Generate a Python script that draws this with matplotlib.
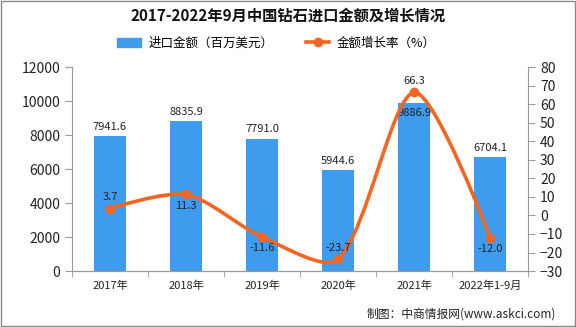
import numpy as np
import matplotlib
matplotlib.use("Agg")
import matplotlib.pyplot as plt
from matplotlib.path import Path
from matplotlib.patches import PathPatch, Patch
from matplotlib.lines import Line2D

plt.rcParams['font.family'] = ['Noto Sans CJK SC', 'DejaVu Sans']

years = ["2017年", "2018年", "2019年", "2020年", "2021年", "2022年1-9月"]
amount = [7941.6, 8835.9, 7791.0, 5944.6, 9886.9, 6704.1]
growth = [3.7, 11.3, -11.6, -23.7, 66.3, -12.0]
# label placement of growth values: above (1) or below (-1) the point
growth_pos = [1, -1, -1, 1, 1, -1]

blue = "#3F9BEE"
orange = "#F26522"
gray = "#999999"

fig = plt.figure(figsize=(5.76, 3.27), dpi=100)
ax = fig.add_axes([0.125, 0.171, 0.792, 0.624])
ax2 = ax.twinx()

x = np.arange(len(years))
ax.bar(x, amount, width=0.42, color=blue, zorder=2)
ax.set_xlim(-0.5, len(years) - 0.5)
ax.set_ylim(0, 12000)
ax.set_yticks(range(0, 12001, 2000))
ax2.set_ylim(-30, 80)
ax2.set_yticks(range(-30, 81, 10))

for i, v in enumerate(amount):
    if i == 4:
        ax.text(i, v - 300, f"{v:.1f}", ha="center", va="top", fontsize=8, color="#222222", zorder=5)
    else:
        ax.text(i, v + 250, f"{v:.1f}", ha="center", va="bottom", fontsize=8, color="#222222")

# smooth curve through the growth points, control points computed in pixel space
sx, sy = 76.0, 204.0 / 110.0
pts = np.column_stack([x * sx, np.array(growth) * sy]).astype(float)
n = len(pts)
cl = pts.copy()
cr = pts.copy()
s = 0.28
for i in range(1, n - 1):
    v = pts[i + 1] - pts[i - 1]
    d0 = np.linalg.norm(pts[i] - pts[i - 1])
    d1 = np.linalg.norm(pts[i + 1] - pts[i])
    cl[i] = pts[i] - v * s * d0 / (d0 + d1)
    cr[i] = pts[i] + v * s * d1 / (d0 + d1)
verts = [tuple(pts[0])]
codes = [Path.MOVETO]
for i in range(n - 1):
    verts += [tuple(cr[i]), tuple(cl[i + 1]), tuple(pts[i + 1])]
    codes += [Path.CURVE4] * 3
verts = [(vx / sx, vy / sy) for vx, vy in verts]
ax2.add_patch(PathPatch(Path(verts, codes), fill=False, edgecolor=orange, lw=2.6, zorder=3))
ax2.plot(x, growth, "o", color=orange, ms=6, zorder=4)

for xi, v, p in zip(x, growth, growth_pos):
    if p > 0:
        ax2.text(xi, v + 3.5, f"{v:.1f}", ha="center", va="bottom", fontsize=8, color="#222222", zorder=5)
    else:
        ax2.text(xi, v - 3.5, f"{v:.1f}", ha="center", va="top", fontsize=8, color="#222222", zorder=5)

for a in (ax, ax2):
    a.spines["top"].set_visible(False)
    for sp in ("left", "right", "bottom"):
        a.spines[sp].set_color(gray)
    a.tick_params(colors=gray, labelcolor="#222222", labelsize=10, length=5)
ax.spines["right"].set_visible(False)
ax2.spines["left"].set_visible(False)

ax.set_xticks(x)
ax.set_xticklabels(years, fontsize=8)
ax.tick_params(axis="x", length=0, pad=7)
ax.set_xticks(np.arange(-0.5, len(years)), minor=True)
ax.tick_params(axis="x", which="minor", length=4, color=gray)

fig.text(0.5, 0.953, "2017-2022年9月中国钻石进口金额及增长情况", ha="center", va="center",
         fontsize=11, fontweight="bold", color="#111111")

handles = [Patch(color=blue),
           Line2D([0], [0], color=orange, lw=2.6, marker="o", ms=6)]
fig.legend(handles, ["进口金额（百万美元）", "金额增长率（%）"], loc="center",
           bbox_to_anchor=(0.48, 0.868), ncol=2, frameon=False, fontsize=9,
           handlelength=1.9, handletextpad=0.6, columnspacing=2.6)

fig.text(0.965, 0.04, "制图：中商情报网(www.askci.com)", ha="right", va="center",
         fontsize=8.5, color="#222222")

fig.patches.append(plt.Rectangle((0.002, 0.003), 0.996, 0.994, transform=fig.transFigure,
                                 fill=False, edgecolor="#888888", lw=1))

fig.savefig("out.png", dpi=100)
